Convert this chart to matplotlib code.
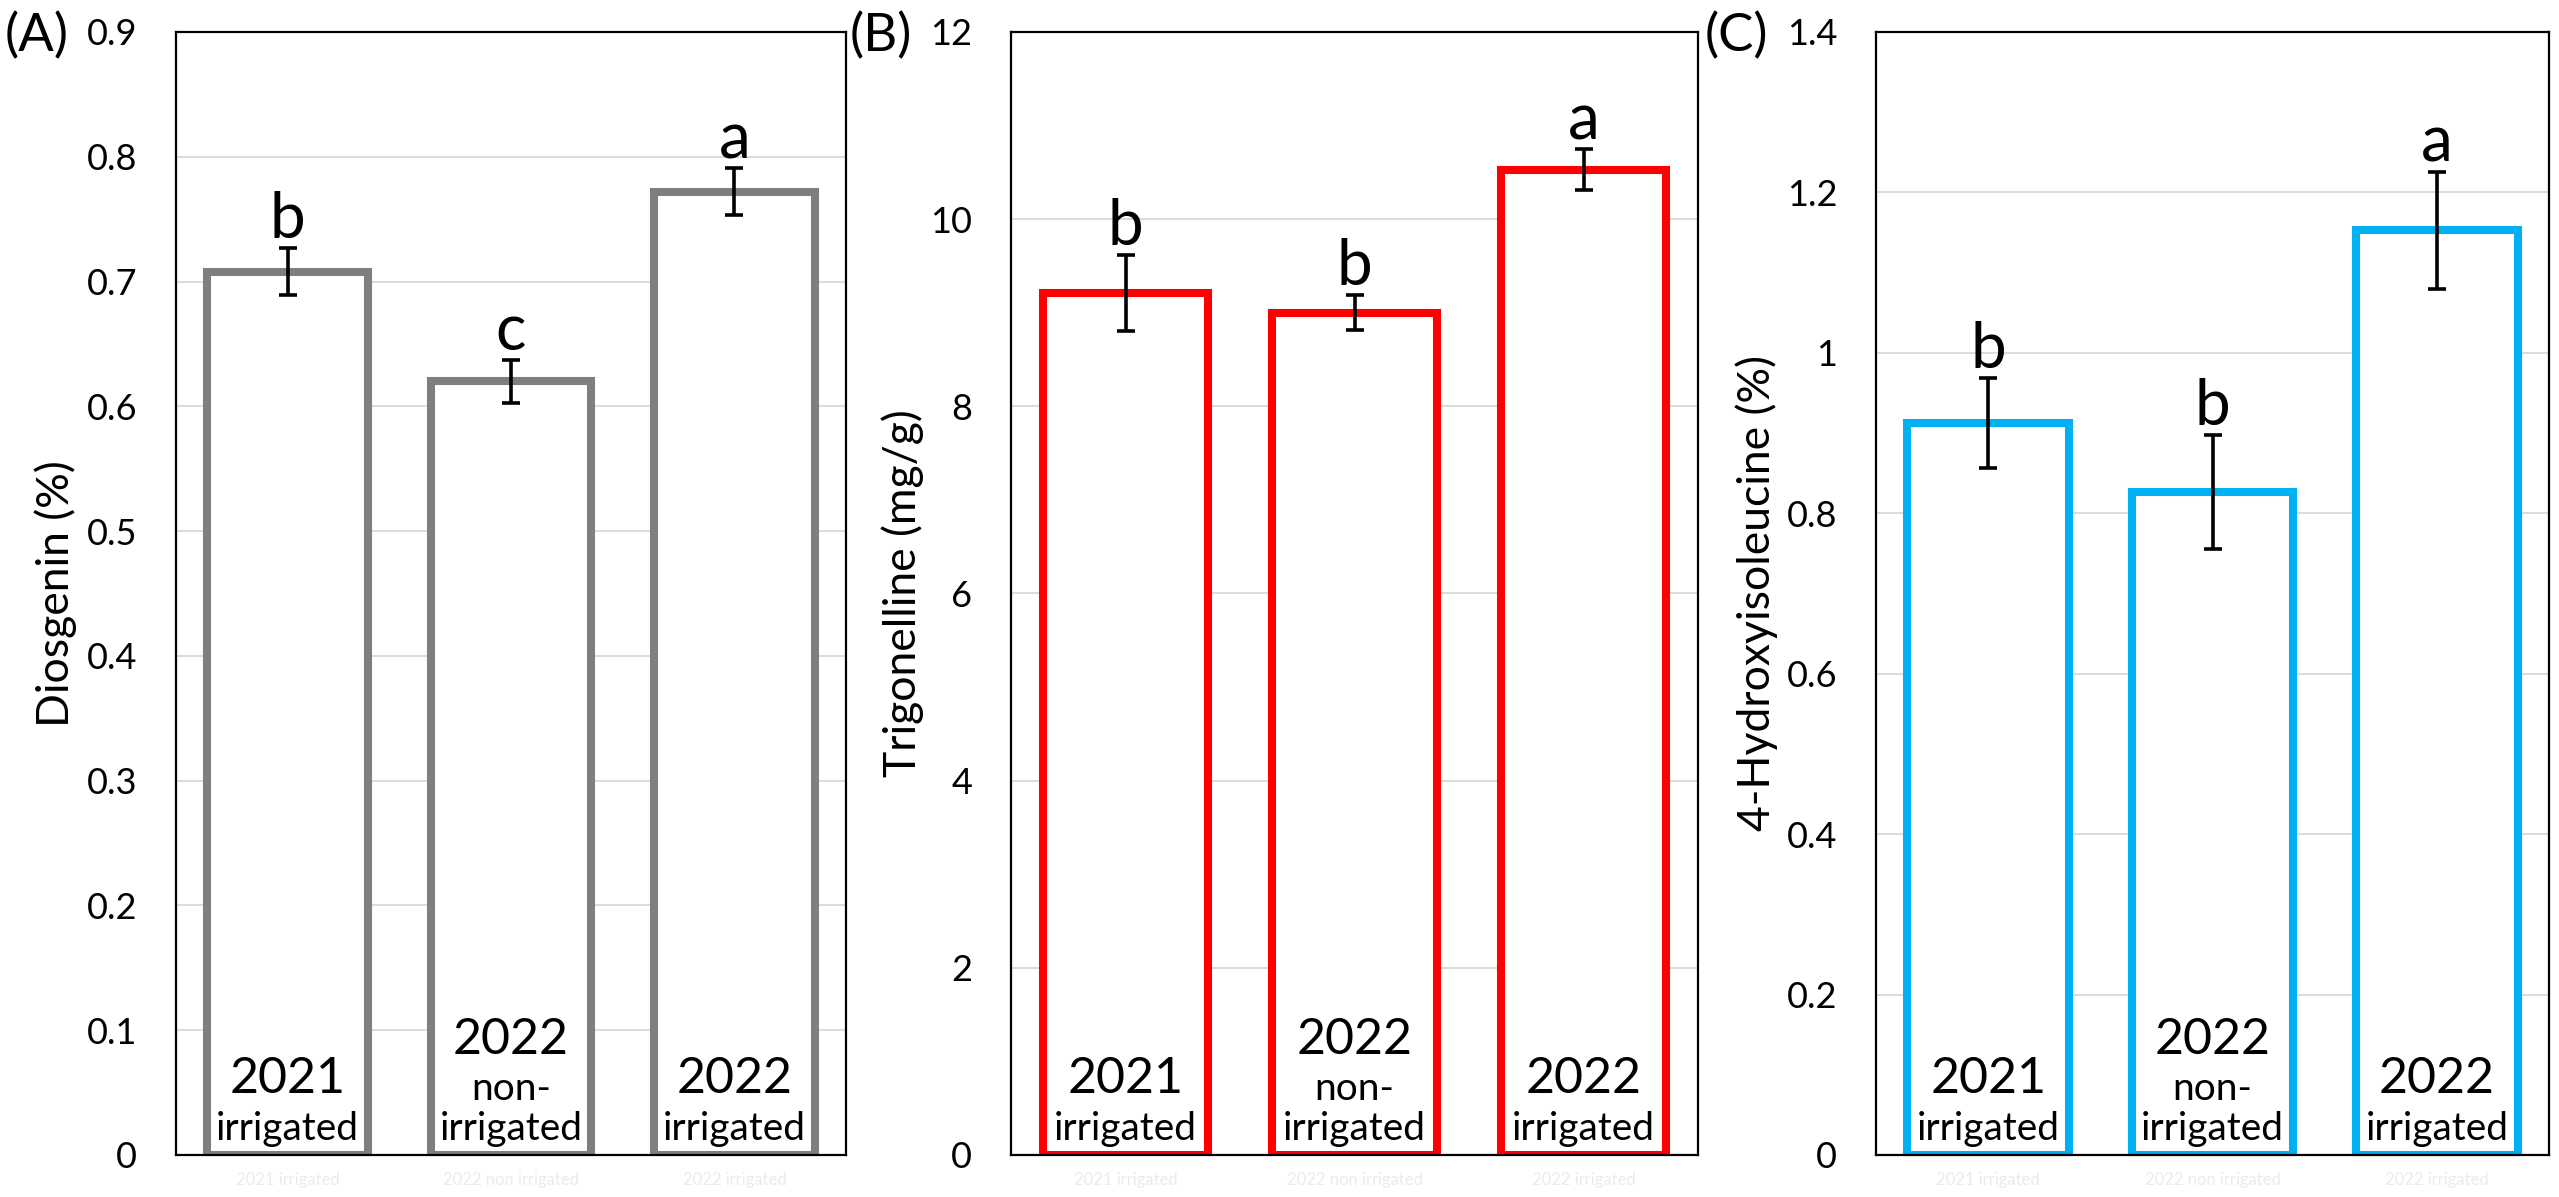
"""Diosgenin, trigonelline and 4-hydroxyisoleucine by season / irrigation."""

import matplotlib
matplotlib.use("Agg")
import matplotlib.pyplot as plt
import matplotlib.transforms as mtransforms
import numpy as np
from matplotlib.ticker import FuncFormatter, MultipleLocator

plt.rcParams["font.family"] = ["Lato", "DejaVu Sans"]

# ── Data ──────────────────────────────────────────────────────────────────────
categories = ["2021 irrigated", "2022 non irrigated", "2022 irrigated"]
year_lines = ["2021", "2022", "2022"]
sub_lines = [["irrigated"], ["non-", "irrigated"], ["irrigated"]]

diosgenin = [0.708, 0.620, 0.772]
diosgenin_err = [0.019, 0.017, 0.019]
diosgenin_letters = ["b", "c", "a"]

trigonelline = [9.21, 9.00, 10.53]
trigonelline_err = [0.41, 0.19, 0.22]
trigonelline_letters = ["b", "b", "a"]

hydroxy = [0.913, 0.827, 1.153]
hydroxy_err = [0.056, 0.071, 0.073]
hydroxy_letters = ["b", "b", "a"]

panels = [
    dict(tag="(A)", vals=diosgenin, err=diosgenin_err, letters=diosgenin_letters,
         ylabel="Diosgenin (%)", ymax=0.9, step=0.1, color="#7f7f7f",
         rect=[0.0688, 0.0351, 0.2618, 0.9382], lab_x=-0.148, tag_x=0.002),
    dict(tag="(B)", vals=trigonelline, err=trigonelline_err, letters=trigonelline_letters,
         ylabel="Trigonelline (mg/g)", ymax=12, step=2, color="#ff0000",
         rect=[0.3951, 0.0351, 0.2685, 0.9382], lab_x=-0.126, tag_x=0.332),
    dict(tag="(C)", vals=hydroxy, err=hydroxy_err, letters=hydroxy_letters,
         ylabel="4-Hydroxyisoleucine (%)", ymax=1.4, step=0.2, color="#00b0f0",
         rect=[0.7331, 0.0351, 0.2630, 0.9382], lab_x=-0.145, tag_x=0.666),
]

# ── Plot ──────────────────────────────────────────────────────────────────────
fig = plt.figure(figsize=(25.59, 11.97), dpi=100)
x = np.arange(len(categories))

for p in panels:
    ax = fig.add_axes(p["rect"])
    ax.set_axisbelow(True)
    ax.grid(axis="y", color="#d9d9d9", linewidth=1.3)

    ax.bar(x, p["vals"], width=0.72, facecolor="white", edgecolor=p["color"],
           linewidth=5.8, zorder=2)
    ax.errorbar(x, p["vals"], yerr=p["err"], fmt="none", ecolor="black",
                elinewidth=2.6, capsize=6.5, capthick=2.6, zorder=3)

    for xi, v, e, let in zip(x, p["vals"], p["err"], p["letters"]):
        ax.annotate(let, (xi, v + e), xytext=(0, 7), textcoords="offset points",
                    ha="center", va="baseline", fontsize=46, zorder=4)

    # in-bar category text
    trans = mtransforms.blended_transform_factory(ax.transData, ax.transAxes)
    for xi, yr, subs in zip(x, year_lines, sub_lines):
        if len(subs) == 1:
            ax.text(xi, 0.0552, yr, transform=trans, ha="center", va="baseline",
                    fontsize=36, zorder=4)
            ax.text(xi, 0.0134, subs[0], transform=trans, ha="center",
                    va="baseline", fontsize=28, zorder=4)
        else:
            ax.text(xi, 0.090, yr, transform=trans, ha="center", va="baseline",
                    fontsize=36, zorder=4)
            ax.text(xi, 0.049, subs[0], transform=trans, ha="center",
                    va="baseline", fontsize=28, zorder=4)
            ax.text(xi, 0.0134, subs[1], transform=trans, ha="center",
                    va="baseline", fontsize=28, zorder=4)

    ax.set_xlim(-0.5, len(categories) - 0.5)
    ax.set_ylim(0, p["ymax"])
    ax.yaxis.set_major_locator(MultipleLocator(p["step"]))
    ax.yaxis.set_major_formatter(FuncFormatter(lambda v, _: f"{round(v, 2):g}"))
    ax.set_xticks(x)
    ax.set_xticklabels(categories, color="#ebebeb", fontsize=12)
    ax.tick_params(axis="x", length=0, pad=12)
    ax.tick_params(axis="y", length=0, pad=28, labelsize=26)

    for sp in ax.spines.values():
        sp.set_color("black")
        sp.set_linewidth(1.6)
        sp.set_zorder(5)

    ax.set_ylabel(p["ylabel"], fontsize=32)
    ax.yaxis.set_label_coords(p["lab_x"], 0.5)

    fig.text(p["tag_x"], 0.970, p["tag"], fontsize=38, ha="left", va="center")

fig.savefig("out.png", dpi=100)
plt.close(fig)
